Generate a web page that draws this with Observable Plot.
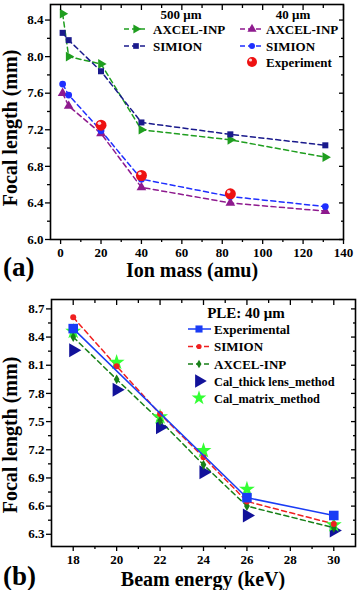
<!DOCTYPE html>
<html><head><meta charset="utf-8">
<script src="https://cdn.jsdelivr.net/npm/d3@7"></script>
<script src="https://cdn.jsdelivr.net/npm/@observablehq/plot@0.6"></script>
<style>
html,body{margin:0;padding:0;background:#fff;}
#wrap{position:relative;width:357px;height:590px;overflow:hidden;}
#wrap svg{display:block}
#overlay{position:absolute;left:0;top:0;pointer-events:none}
</style></head><body><div id="wrap"></div>
<script>
// ---------- Panel (a) data ----------
const ionMass   = [1, 4, 20, 40, 84, 131];
const axcel500  = [8.47, 8.00, 7.92, 7.20, 7.09, 6.90];
const simion500 = [8.26, 8.18, 7.84, 7.28, 7.15, 7.03];
const axcel40   = [7.60, 7.46, 7.16, 6.57, 6.40, 6.31];
const simion40  = [7.70, 7.58, 7.19, 6.66, 6.47, 6.36];
const expMass   = [20, 40, 84];
const expFocal  = [7.25, 6.70, 6.50];
const massTicks   = [0, 20, 40, 60, 80, 100, 120, 140];
const massMinor   = [10, 30, 50, 70, 90, 110, 130];
const focalTicksA = [6.0, 6.4, 6.8, 7.2, 7.6, 8.0, 8.4];
const focalMinorA = [6.2, 6.6, 7.0, 7.4, 7.8, 8.2];

// ---------- Panel (b) data ----------
const beamEnergy = [18, 20, 22, 24, 26, 30];
const simionB    = [8.61, 8.09, 7.58, 7.12, 6.65, 6.41];
const axcelB     = [8.40, 7.95, 7.51, 7.04, 6.60, 6.37];
const thickLens  = [8.26, 7.84, 7.44, 6.96, 6.50, 6.34];
const matrixM    = [8.46, 8.13, 7.55, 7.19, 6.78, 6.40];
const expEnergy  = [18, 26, 30];
const expFocalB  = [8.49, 6.69, 6.50];
const energyTicks = [18, 20, 22, 24, 26, 28, 30];
const energyMinor = [19, 21, 23, 25, 27, 29];
const focalTicksB = [6.3, 6.6, 6.9, 7.2, 7.5, 7.8, 8.1, 8.4, 8.7];
const focalMinorB = [6.45, 6.75, 7.05, 7.35, 7.65, 7.95, 8.25, 8.55];

const C = {
  green500: "#1f9e1f", navy500: "#1a1a8c", purple40: "#8e1a8e", blue40: "#1f2fff", red: "#ee1111",
  expB: "#1a3cf5", simB: "#f02020", axB: "#188018", thick: "#12129a", star: "#33ff33"
};
const FONT = "'Liberation Serif','Times New Roman',serif";
const zip = (xs, ys) => xs.map((x, i) => ({x, y: ys[i]}));
const blank = () => "";
const dash = "5,3.5";

function frameAxes(xMaj, xMin, yMaj, yMin, yFmt) {
  const sw = 1.3;
  const t = {fontFamily: FONT, fontWeight: "bold"};
  return [
    Plot.axisX(xMaj, {anchor: "bottom", tickSize: 5, tickPadding: 3, label: null, strokeWidth: sw, tickFormat: d => String(d), ...t}),
    Plot.axisX(xMin, {anchor: "bottom", tickSize: 3, label: null, strokeWidth: sw, tickFormat: blank}),
    Plot.axisX(xMaj, {anchor: "top", tickSize: 5, insetTop: 5, label: null, strokeWidth: sw, tickFormat: blank}),
    Plot.axisX(xMin, {anchor: "top", tickSize: 3, insetTop: 3, label: null, strokeWidth: sw, tickFormat: blank}),
    Plot.axisY(yMaj, {anchor: "left", tickSize: 5, tickPadding: 2, label: null, strokeWidth: sw, tickFormat: yFmt, ...t}),
    Plot.axisY(yMin, {anchor: "left", tickSize: 3, label: null, strokeWidth: sw, tickFormat: blank}),
    Plot.axisY(yMaj, {anchor: "right", tickSize: 5, insetRight: 5, label: null, strokeWidth: sw, tickFormat: blank}),
    Plot.axisY(yMin, {anchor: "right", tickSize: 3, insetRight: 3, label: null, strokeWidth: sw, tickFormat: blank}),
    Plot.frame({stroke: "black", strokeWidth: 1.6})
  ];
}
const style = {fontFamily: FONT, fontWeight: "bold", fontSize: "13px", color: "black", background: "white", overflow: "visible"};

const plotA = Plot.plot({
  width: 357, height: 290,
  marginLeft: 50, marginRight: 14, marginTop: 4, marginBottom: 51,
  x: {domain: [-5, 140]},
  y: {domain: [6.0, 8.57]},
  style,
  marks: [
    Plot.line(zip(ionMass, axcel500), {x: "x", y: "y", stroke: C.green500, strokeWidth: 1.5, strokeDasharray: dash}),
    Plot.line(zip(ionMass, simion500), {x: "x", y: "y", stroke: C.navy500, strokeWidth: 1.5, strokeDasharray: dash}),
    Plot.line(zip(ionMass, axcel40), {x: "x", y: "y", stroke: C.purple40, strokeWidth: 1.5, strokeDasharray: dash}),
    Plot.line(zip(ionMass, simion40), {x: "x", y: "y", stroke: C.blue40, strokeWidth: 1.5, strokeDasharray: dash}),
    Plot.dot(zip(ionMass, axcel500), {x: "x", y: "y", symbol: "triangle", rotate: 90, r: 3.6, fill: C.green500, stroke: "none"}),
    Plot.dot(zip(ionMass, simion500), {x: "x", y: "y", symbol: "square", r: 3.4, fill: C.navy500, stroke: "none"}),
    Plot.dot(zip(ionMass, axcel40), {x: "x", y: "y", symbol: "triangle", r: 3.6, fill: C.purple40, stroke: "none"}),
    Plot.dot(zip(ionMass, simion40), {x: "x", y: "y", symbol: "circle", r: 3.4, fill: C.blue40, stroke: "none"}),
    Plot.dot(zip(expMass, expFocal), {x: "x", y: "y", r: 5.5, fill: C.red, stroke: "none"}),
    Plot.dot(zip(expMass, expFocal), {x: "x", y: "y", r: 1.8, dx: -1.6, dy: -2, fill: "#ffd6d6", stroke: "none"}),
    ...frameAxes(massTicks, massMinor, focalTicksA, focalMinorA, d3.format(".1f"))
  ]
});

const plotB = Plot.plot({
  width: 357, height: 300,
  marginLeft: 51, marginRight: 2, marginTop: 9, marginBottom: 44,
  x: {domain: [17, 31]},
  y: {domain: [6.17, 8.8]},
  style,
  marks: [
    Plot.line(zip(beamEnergy, simionB), {x: "x", y: "y", stroke: C.simB, strokeWidth: 1.5, strokeDasharray: dash}),
    Plot.line(zip(beamEnergy, axcelB), {x: "x", y: "y", stroke: C.axB, strokeWidth: 1.5, strokeDasharray: dash}),
    Plot.dot(zip(beamEnergy, thickLens), {x: "x", y: "y", symbol: "triangle", rotate: 90, r: 5.2, fill: C.thick, stroke: "none"}),
    Plot.dot(zip(beamEnergy, matrixM), {x: "x", y: "y", symbol: "star", r: 5, fill: C.star, stroke: "none"}),
    Plot.dot(zip(beamEnergy, axcelB), {x: "x", y: "y", symbol: "diamond", r: 3, fill: C.axB, stroke: "none"}),
    Plot.dot(zip(beamEnergy, simionB), {x: "x", y: "y", symbol: "circle", r: 3, fill: C.simB, stroke: "none"}),
    Plot.line(zip(expEnergy, expFocalB), {x: "x", y: "y", stroke: C.expB, strokeWidth: 1.5}),
    Plot.dot(zip(expEnergy, expFocalB), {x: "x", y: "y", symbol: "square", r: 5.4, fill: C.expB, stroke: "none"}),
    ...frameAxes(energyTicks, energyMinor, focalTicksB, focalMinorB, d3.format(".1f"))
  ]
});

const wrap = document.getElementById("wrap");
wrap.appendChild(plotA);
wrap.appendChild(plotB);

// ---------- overlay: titles, panel letters, legends ----------
const ov = d3.select(wrap).append("svg").attr("id", "overlay").attr("width", 357).attr("height", 590)
  .style("font-family", FONT).style("font-weight", "bold");
function txt(x, y, s, size, anchor = "start", rot = 0) {
  const t = ov.append("text").attr("x", x).attr("y", y).attr("font-size", size).attr("text-anchor", anchor).text(s);
  if (rot) t.attr("transform", `rotate(${rot},${x},${y})`);
  return t;
}
function sym(x, y, type, r, fill, rot = 0) {
  ov.append("path").attr("d", d3.symbol(type, Math.PI * r * r)()).attr("fill", fill)
    .attr("transform", `translate(${x},${y}) rotate(${rot})`);
}
function seg(x1, x2, y, stroke, dashed) {
  ov.append("line").attr("x1", x1).attr("x2", x2).attr("y1", y).attr("y2", y)
    .attr("stroke", stroke).attr("stroke-width", 1.5).attr("stroke-dasharray", dashed ? "5,3" : null);
}

// axis titles
txt(17, 128, "Focal length (mm)", 20, "middle", -90);
txt(192, 277, "Ion mass (amu)", 20, "middle");
txt(3, 276, "(a)", 27);
txt(17, 435, "Focal length (mm)", 20, "middle", -90);
txt(203, 586, "Beam energy (keV)", 20, "middle");
txt(3, 585, "(b)", 27);

// legend (a)
txt(181, 19, "500 μm", 13, "middle");
txt(293, 19, "40 μm", 13, "middle");
seg(124, 146, 29, C.green500, true); sym(136, 29, d3.symbolTriangle, 3.4, C.green500, 90);
txt(153, 33.5, "AXCEL-INP", 13);
seg(124, 146, 46, C.navy500, true); sym(136, 46, d3.symbolSquare, 3.2, C.navy500);
txt(153, 50.5, "SIMION", 13);
seg(240, 263, 29, C.purple40, true); sym(252, 29, d3.symbolTriangle, 3.4, C.purple40);
txt(266, 33.5, "AXCEL-INP", 13);
seg(240, 263, 46, C.blue40, true); sym(252, 46, d3.symbolCircle, 3, C.blue40);
txt(266, 50.5, "SIMION", 13);
sym(252, 62, d3.symbolCircle, 5, C.red);
ov.append("circle").attr("cx", 250.5).attr("cy", 60).attr("r", 1.6).attr("fill", "#ffd6d6");
txt(266, 66.5, "Experiment", 13);

// legend (b)
txt(246, 318, "PLE: 40 μm", 15, "middle");
const lbY = [329, 346.5, 364, 381, 398];
seg(188, 211, lbY[0], C.expB, false); sym(199, lbY[0], d3.symbolSquare, 4, C.expB);
txt(214, lbY[0] + 4.5, "Experimental", 13);
seg(188, 211, lbY[1], C.simB, true); sym(199, lbY[1], d3.symbolCircle, 2.6, C.simB);
txt(214, lbY[1] + 4.5, "SIMION", 13);
seg(188, 211, lbY[2], C.axB, true); sym(199, lbY[2], d3.symbolDiamond, 2.6, C.axB);
txt(214, lbY[2] + 4.5, "AXCEL-INP", 13);
sym(199, lbY[3], d3.symbolTriangle, 5, C.thick, 90);
txt(214, lbY[3] + 4.5, "Cal_thick lens_method", 12.3);
sym(199, lbY[4], d3.symbolStar, 4.6, C.star);
txt(214, lbY[4] + 4.5, "Cal_matrix_method", 12.3);
</script></body></html>
